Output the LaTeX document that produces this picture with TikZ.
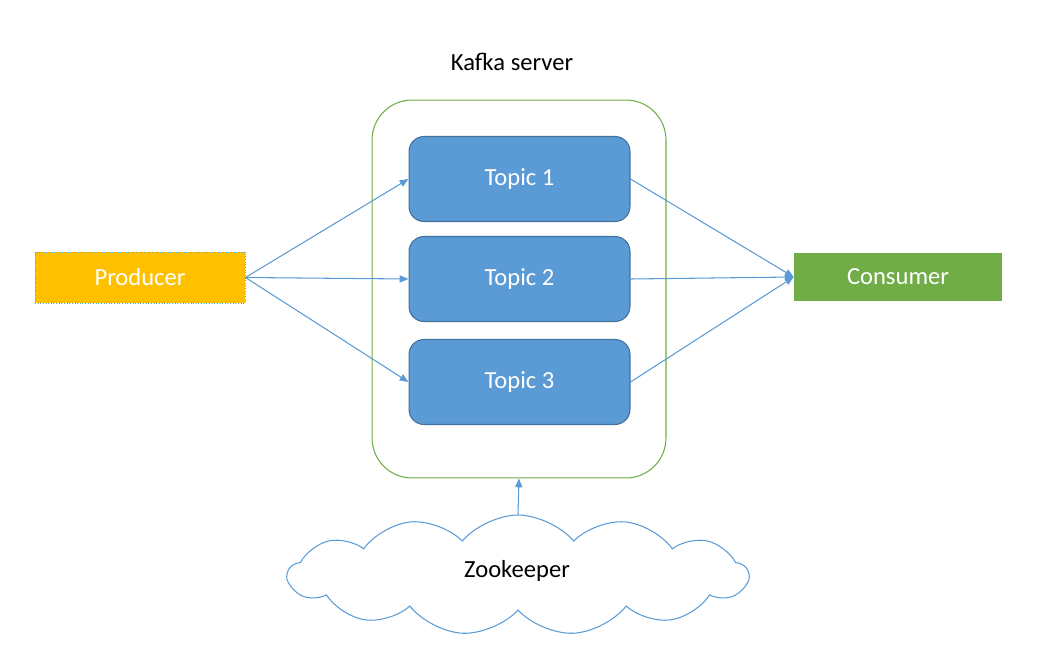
\documentclass[tikz,border=0pt]{standalone}
\usepackage{fontspec}
\setmainfont{Carlito}
\usetikzlibrary{arrows.meta}
\usetikzlibrary{shapes.symbols}
\definecolor{kyellow}{HTML}{FFC000}
\definecolor{kgreen}{HTML}{70AD47}
\definecolor{kblue}{HTML}{5B9BD5}
\definecolor{kdblue}{HTML}{41719C}
\definecolor{kteal}{HTML}{4BACC6}
\tikzset{topic/.style = {draw=kdblue, fill=kblue, rounded corners=0.3cm, line width=0.6pt,
    minimum width=4.42cm, minimum height=1.7cm, text=white}}
\tikzset{link/.style = {draw=kblue, line width=0.6pt, -{Triangle[length=5pt, width=4pt]}}}

\begin{document}
\begin{tikzpicture}[x=0.02cm, y=-0.02cm, font=\fontsize{14}{17}\selectfont]
      \useasboundingbox (0, 0) rectangle (1037, 649);
      \node (kafka) [draw=kgreen, rounded corners=0.8cm, line width=0.6pt,
        minimum width=5.88cm, minimum height=7.56cm] at (519, 289) {};
      \node (title) at (512, 62) {Kafka server};
      \node (prod) [fill=kyellow, draw=kteal, densely dotted, line width=0.5pt, text=white,
        minimum width=4.2cm, minimum height=1.02cm] at (140, 277.5) {Producer};
      \node (cons) [fill=kgreen, text=white,
        minimum width=4.16cm, minimum height=0.96cm] at (898, 277) {Consumer};
      \foreach \i/\y in {1/179, 2/279, 3/382} {
        \node (t\i) [topic] at (519.5, \y) {Topic \i};
        \draw [link] (prod.east) -- (t\i.west);
        \draw [link] (t\i.east) -- (cons.west);
      }
      \node (zoo) [cloud, cloud puffs=13, cloud puff arc=100, cloud ignores aspect, draw=kblue,
        line width=0.6pt, minimum width=9.2cm, minimum height=2.4cm, inner sep=0] at (518, 575) {};
      \node (zootext) at (517, 571) {Zookeeper};
      \draw [link] (zoo.north) -- (kafka.south);
    \end{tikzpicture}
\end{document}
